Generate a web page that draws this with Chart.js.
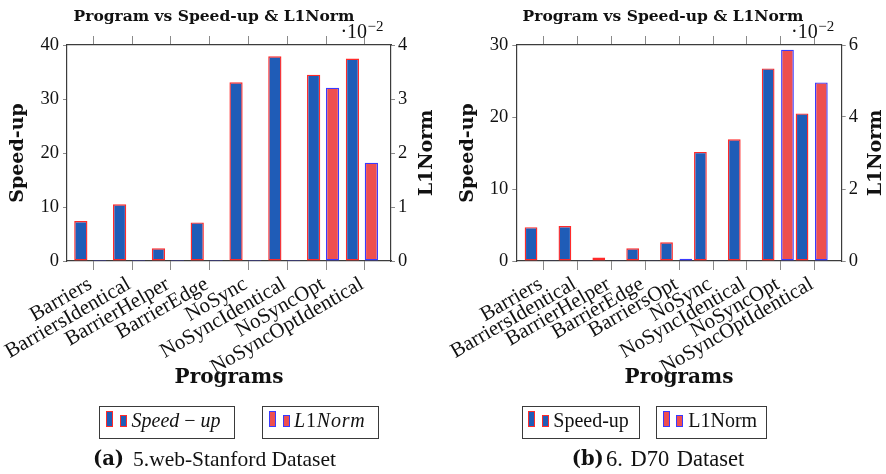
<!DOCTYPE html>
<html>
<head>
<meta charset="utf-8">
<title>Program vs Speed-up &amp; L1Norm</title>
<script src="https://cdn.jsdelivr.net/npm/chart.js@4.4.1/dist/chart.umd.min.js"></script>
<style>
  html, body { margin: 0; padding: 0; background: #fff; }
  #page { position: relative; width: 886px; height: 474px; overflow: hidden; background: #fff; }
  canvas { position: absolute; top: 0; }
  .lg { position: absolute; box-sizing: border-box; top: 406px; height: 33px; border: 1.3px solid #3a3a3a; }
  .sw { position: absolute; box-sizing: border-box; width: 7px; border: 1.4px solid; }
  .sw.tall { top: 411px; height: 15.5px; }
  .sw.short { top: 415px; height: 11.5px; }
  .sw.sp { background: #1f5cb7; border-color: #ff2a2a; }
  .sw.l1 { background: #ee4f4f; border-color: #3a3aff; }
  .lt { position: absolute; top: 410px; font-family: 'Liberation Serif', serif; font-size: 20px; line-height: 20px; white-space: pre; color: #111; }
  .lt i { font-style: italic; font-family: 'Liberation Serif', serif; }
  .capb { position: absolute; top: 448px; font-family: 'DejaVu Serif', serif; font-weight: bold; font-size: 19.5px; line-height: 22px; color: #111; white-space: pre; }
  .capt { position: absolute; top: 448px; font-family: 'Liberation Serif', serif; font-size: 21.5px; line-height: 22px; color: #111; white-space: pre; }
</style>
</head>
<body>
<div id="page">
  <canvas id="chartStanford" width="443" height="474" style="left:0px"></canvas>
  <canvas id="chartD70" width="443" height="474" style="left:443px"></canvas>

  <!-- legend, 5.web-Stanford -->
  <div class="lg" style="left:99px;width:136px"></div>
  <div class="sw sp tall" style="left:106px"></div>
  <div class="sw sp short" style="left:119.5px"></div>
  <div class="lt" style="left:131.5px"><i>Speed</i> − <i>up</i></div>
  <div class="lg" style="left:262px;width:117px"></div>
  <div class="sw l1 tall" style="left:269.3px"></div>
  <div class="sw l1 short" style="left:282.7px"></div>
  <div class="lt" style="left:294px;letter-spacing:0.8px"><i>L</i>1<i>Norm</i></div>

  <!-- legend, D70 -->
  <div class="lg" style="left:521.7px;width:118.3px"></div>
  <div class="sw sp tall" style="left:528.3px"></div>
  <div class="sw sp short" style="left:541.7px"></div>
  <div class="lt" style="left:553.3px">Speed-up</div>
  <div class="lg" style="left:656px;width:111.3px"></div>
  <div class="sw l1 tall" style="left:662.7px"></div>
  <div class="sw l1 short" style="left:675.7px"></div>
  <div class="lt" style="left:688.3px">L1Norm</div>

  <!-- sub-captions -->
  <div class="capb" style="left:93px">(a)</div>
  <div class="capt" style="left:133px">5.web-Stanford Dataset</div>
  <div class="capb" style="left:571.7px">(b)</div>
  <div class="capt" style="left:606px;font-size:22.5px;word-spacing:2px">6. D70 Dataset</div>
</div>

<script>
// ---- data: 5.web-Stanford ----
const stanfordPrograms = ['Barriers', 'BarriersIdentical', 'BarrierHelper', 'BarrierEdge',
                          'NoSync', 'NoSyncIdentical', 'NoSyncOpt', 'NoSyncOptIdentical'];
const stanfordSpeedup = [7.4, 10.5, 2.35, 7.15, 33.1, 37.9, 34.5, 37.5];
const stanfordL1Norm = [0.0002, 0.0002, 0.0002, 0.0002, 0.0002, 0.0002, 0.0321, 0.0182];
const stanfordSpeedupTicks = [0, 10, 20, 30, 40];
const stanfordL1NormTicks = [0, 1, 2, 3, 4];      // shown in units of 10^-2

// ---- data: 6. D70 ----
const d70Programs = ['Barriers', 'BarriersIdentical', 'BarrierHelper', 'BarrierEdge', 'BarriersOpt',
                     'NoSync', 'NoSyncIdentical', 'NoSyncOpt', 'NoSyncOptIdentical'];
const d70Speedup = [4.7, 4.85, 0.47, 1.77, 2.6, 15.15, 16.9, 26.75, 20.5];
const d70L1Norm = [0.0002, 0.0002, 0.0002, 0.0002, 0.0006, 0.0002, 0.0002, 0.0587, 0.0496];
const d70SpeedupTicks = [0, 10, 20, 30];
const d70L1NormTicks = [0, 2, 4, 6];              // shown in units of 10^-2

// ---- styling ----
const SERIF = "'Liberation Serif', 'Times New Roman', serif";
const SERIF_BOLD = "'DejaVu Serif', serif";
const INK = '#111111';
const FRAME = '#3c3c3c';
const TICK = '#8a8a8a';
const SPEED_FILL = '#1f5cb7';
const SPEED_EDGE = '#ff2a2a';
const L1_FILL = '#ee4f4f';
const L1_EDGE = '#3a3aff';
const CANVAS_W = 443;

// titles, right-axis label and the common 10^-2 factor
const decorPlugin = {
  id: 'decor',
  afterDraw(chart, args, o) {
    const { ctx, chartArea } = chart;
    ctx.save();
    ctx.fillStyle = INK;
    ctx.textAlign = 'center';
    ctx.textBaseline = 'middle';
    ctx.font = 'bold 15.5px ' + SERIF_BOLD;
    ctx.fillText(o.title, o.titleX, o.titleY);

    ctx.save();
    ctx.translate(chartArea.right + o.rightTitleGap, (chartArea.top + chartArea.bottom) / 2);
    ctx.rotate(-Math.PI / 2);
    ctx.font = 'bold 19px ' + SERIF_BOLD;
    ctx.fillText(o.rightTitle, 0, 0);
    ctx.restore();

    ctx.textAlign = 'left';
    ctx.textBaseline = 'alphabetic';
    ctx.font = '20px ' + SERIF;
    const base = '\u00B710';
    const wBase = ctx.measureText(base).width;
    ctx.font = '15px ' + SERIF;
    const sup = '\u22122';
    const wSup = ctx.measureText(sup).width;
    const x0 = chartArea.right - 8 - wBase - wSup;
    ctx.font = '20px ' + SERIF;
    ctx.fillText(base, x0, 38);
    ctx.font = '15px ' + SERIF;
    ctx.fillText(sup, x0 + wBase + 0.5, 31);
    ctx.restore();
  }
};

function buildChart(canvasId, spec) {
  const catTicks = s => { s.ticks = spec.programs.map((_, i) => ({ value: i + spec.tickShift })); };
  const border = { display: true, color: FRAME, width: 1.2 };
  const l1Max = spec.l1Ticks[spec.l1Ticks.length - 1] / 100;
  const spMax = spec.speedupTicks[spec.speedupTicks.length - 1];

  return new Chart(document.getElementById(canvasId), {
    type: 'bar',
    data: {
      datasets: [
        {
          label: 'Speed-up',
          data: spec.speedup.map((v, i) => ({ x: i, y: v })),
          yAxisID: 'y',
          backgroundColor: SPEED_FILL,
          borderColor: SPEED_EDGE,
          borderWidth: 1.4,
          borderSkipped: false
        },
        {
          label: 'L1Norm',
          data: spec.l1.map((v, i) => ({ x: i, y: v })),
          yAxisID: 'y1',
          backgroundColor: L1_FILL,
          borderColor: L1_EDGE,
          borderWidth: 1.4,
          borderSkipped: false
        }
      ]
    },
    options: {
      responsive: false,
      animation: false,
      devicePixelRatio: 1,
      layout: { padding: { top: 26, bottom: 84, left: 0, right: 0 } },
      datasets: { bar: { categoryPercentage: spec.catPct, barPercentage: spec.barPct } },
      plugins: {
        legend: { display: false },
        title: { display: false },
        tooltip: { enabled: false },
        decor: {
          title: 'Program vs Speed-up & L1Norm',
          titleX: spec.titleX,
          titleY: 17,
          rightTitle: 'L1Norm',
          rightTitleGap: spec.rightTitleGap
        }
      },
      scales: {
        x: {
          type: 'linear',
          position: 'bottom',
          min: spec.xMin,
          max: spec.xMax,
          offset: false,
          bounds: 'data',
          afterBuildTicks: catTicks,
          afterFit: s => { s.height = 129; },
          grid: { drawOnChartArea: false, drawTicks: true, tickLength: 9, color: TICK, offset: false },
          border: border,
          ticks: {
            autoSkip: false,
            minRotation: 30,
            maxRotation: 30,
            padding: 2,
            labelOffset: -3,
            color: INK,
            font: { family: SERIF, size: 21 },
            callback: (v, i) => spec.programs[i]
          },
          title: {
            display: true,
            text: 'Programs',
            color: INK,
            font: { family: SERIF_BOLD, size: 20, weight: 'bold' },
            padding: { top: 0, bottom: 0 }
          }
        },
        xTop: {
          type: 'linear',
          position: 'top',
          min: spec.xMin,
          max: spec.xMax,
          offset: false,
          bounds: 'data',
          afterBuildTicks: catTicks,
          afterFit: s => { s.height = 19; },
          grid: { drawOnChartArea: false, drawTicks: true, tickLength: 9, color: TICK, offset: false },
          border: border,
          ticks: { display: false }
        },
        y: {
          type: 'linear',
          position: 'left',
          min: 0,
          max: spMax,
          afterBuildTicks: s => { s.ticks = spec.speedupTicks.map(v => ({ value: v })); },
          afterFit: s => { s.width = spec.areaLeft; },
          grid: { drawOnChartArea: false, drawTicks: true, tickLength: 4, color: TICK },
          border: border,
          ticks: { padding: 4, color: INK, font: { family: SERIF, size: 18.5 } },
          title: {
            display: true,
            text: 'Speed-up',
            color: INK,
            font: { family: SERIF_BOLD, size: 19, weight: 'bold' },
            padding: { top: spec.leftTitlePad, bottom: 0 }
          }
        },
        y1: {
          type: 'linear',
          position: 'right',
          min: 0,
          max: l1Max,
          afterBuildTicks: s => { s.ticks = spec.l1Ticks.map(v => ({ value: v / 100 })); },
          afterFit: s => { s.width = CANVAS_W - spec.areaRight; },
          grid: { drawOnChartArea: false, drawTicks: true, tickLength: 4, color: TICK },
          border: border,
          ticks: {
            padding: 3,
            color: INK,
            font: { family: SERIF, size: 18.5 },
            callback: v => String(Math.round(v * 100))
          }
        }
      }
    },
    plugins: [decorPlugin]
  });
}

buildChart('chartStanford', {
  programs: stanfordPrograms,
  speedup: stanfordSpeedup,
  l1: stanfordL1Norm,
  speedupTicks: stanfordSpeedupTicks,
  l1Ticks: stanfordL1NormTicks,
  xMin: -0.6, xMax: 7.75, tickShift: 0.078,
  catPct: 0.975, barPct: 0.70,
  areaLeft: 67, areaRight: 391,
  titleX: 214, leftTitlePad: 7, rightTitleGap: 36
});

buildChart('chartD70', {
  programs: d70Programs,
  speedup: d70Speedup,
  l1: d70L1Norm,
  speedupTicks: d70SpeedupTicks,
  l1Ticks: d70L1NormTicks,
  xMin: -0.72, xMax: 8.886, tickShift: 0.089,
  catPct: 1.14, barPct: 0.66,
  areaLeft: 73.3, areaRight: 398.7,
  titleX: 220, leftTitlePad: 13.6, rightTitleGap: 34.6
});
</script>
</body>
</html>
